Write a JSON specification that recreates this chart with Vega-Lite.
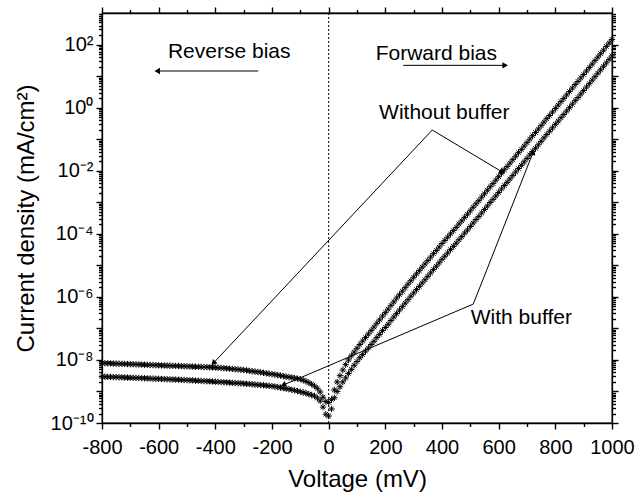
{
"$schema": "https://vega.github.io/schema/vega-lite/v6.json",
"width": 510,
"height": 410,
"autosize": {"type": "none"},
"padding": {"left": 102, "top": 13, "right": 25, "bottom": 79},
"background": "white",
"config": {
  "view": {"stroke": "black", "strokeWidth": 1.3},
  "axis": {"grid": false, "domainColor": "black", "tickColor": "black", "labelColor": "black", "titleColor": "black", "labelFont": "Liberation Sans", "titleFont": "Liberation Sans", "labelFontSize": 20, "labelFontWeight": "normal", "titleFontSize": 24, "titleFontWeight": "normal", "domainWidth": 1.3, "tickWidth": 1.4, "labelOverlap": false, "labelBound": false, "labelFlush": false}
},
"datasets": {
  "main": [
{"v":-800,"j":7.94e-9,"s":"Without buffer"},{"v":-790,"j":7.88e-9,"s":"Without buffer"},{"v":-780,"j":7.82e-9,"s":"Without buffer"},{"v":-770,"j":7.76e-9,"s":"Without buffer"},{"v":-760,"j":7.70e-9,"s":"Without buffer"},{"v":-750,"j":7.64e-9,"s":"Without buffer"},{"v":-740,"j":7.58e-9,"s":"Without buffer"},{"v":-730,"j":7.52e-9,"s":"Without buffer"},{"v":-720,"j":7.46e-9,"s":"Without buffer"},{"v":-710,"j":7.40e-9,"s":"Without buffer"},
{"v":-700,"j":7.35e-9,"s":"Without buffer"},{"v":-690,"j":7.29e-9,"s":"Without buffer"},{"v":-680,"j":7.23e-9,"s":"Without buffer"},{"v":-670,"j":7.17e-9,"s":"Without buffer"},{"v":-660,"j":7.11e-9,"s":"Without buffer"},{"v":-650,"j":7.05e-9,"s":"Without buffer"},{"v":-640,"j":6.99e-9,"s":"Without buffer"},{"v":-630,"j":6.93e-9,"s":"Without buffer"},{"v":-620,"j":6.87e-9,"s":"Without buffer"},{"v":-610,"j":6.81e-9,"s":"Without buffer"},
{"v":-600,"j":6.76e-9,"s":"Without buffer"},{"v":-590,"j":6.71e-9,"s":"Without buffer"},{"v":-580,"j":6.66e-9,"s":"Without buffer"},{"v":-570,"j":6.61e-9,"s":"Without buffer"},{"v":-560,"j":6.56e-9,"s":"Without buffer"},{"v":-550,"j":6.50e-9,"s":"Without buffer"},{"v":-540,"j":6.45e-9,"s":"Without buffer"},{"v":-530,"j":6.40e-9,"s":"Without buffer"},{"v":-520,"j":6.35e-9,"s":"Without buffer"},{"v":-510,"j":6.30e-9,"s":"Without buffer"},
{"v":-500,"j":6.25e-9,"s":"Without buffer"},{"v":-490,"j":6.20e-9,"s":"Without buffer"},{"v":-480,"j":6.15e-9,"s":"Without buffer"},{"v":-470,"j":6.10e-9,"s":"Without buffer"},{"v":-460,"j":6.05e-9,"s":"Without buffer"},{"v":-450,"j":6.00e-9,"s":"Without buffer"},{"v":-440,"j":5.95e-9,"s":"Without buffer"},{"v":-430,"j":5.90e-9,"s":"Without buffer"},{"v":-420,"j":5.85e-9,"s":"Without buffer"},{"v":-410,"j":5.80e-9,"s":"Without buffer"},
{"v":-400,"j":5.75e-9,"s":"Without buffer"},{"v":-390,"j":5.66e-9,"s":"Without buffer"},{"v":-380,"j":5.57e-9,"s":"Without buffer"},{"v":-370,"j":5.47e-9,"s":"Without buffer"},{"v":-360,"j":5.38e-9,"s":"Without buffer"},{"v":-350,"j":5.28e-9,"s":"Without buffer"},{"v":-340,"j":5.18e-9,"s":"Without buffer"},{"v":-330,"j":5.08e-9,"s":"Without buffer"},{"v":-320,"j":4.98e-9,"s":"Without buffer"},{"v":-310,"j":4.88e-9,"s":"Without buffer"},
{"v":-300,"j":4.79e-9,"s":"Without buffer"},{"v":-290,"j":4.66e-9,"s":"Without buffer"},{"v":-280,"j":4.53e-9,"s":"Without buffer"},{"v":-270,"j":4.40e-9,"s":"Without buffer"},{"v":-260,"j":4.27e-9,"s":"Without buffer"},{"v":-250,"j":4.15e-9,"s":"Without buffer"},{"v":-240,"j":4.03e-9,"s":"Without buffer"},{"v":-230,"j":3.90e-9,"s":"Without buffer"},{"v":-220,"j":3.78e-9,"s":"Without buffer"},{"v":-210,"j":3.66e-9,"s":"Without buffer"},
{"v":-200,"j":3.55e-9,"s":"Without buffer"},{"v":-190,"j":3.43e-9,"s":"Without buffer"},{"v":-180,"j":3.31e-9,"s":"Without buffer"},{"v":-170,"j":3.19e-9,"s":"Without buffer"},{"v":-160,"j":3.07e-9,"s":"Without buffer"},{"v":-150,"j":2.95e-9,"s":"Without buffer"},{"v":-140,"j":2.85e-9,"s":"Without buffer"},{"v":-130,"j":2.75e-9,"s":"Without buffer"},{"v":-120,"j":2.65e-9,"s":"Without buffer"},{"v":-110,"j":2.55e-9,"s":"Without buffer"},
{"v":-100,"j":2.45e-9,"s":"Without buffer"},{"v":-90,"j":2.28e-9,"s":"Without buffer"},{"v":-80,"j":2.09e-9,"s":"Without buffer"},{"v":-70,"j":1.90e-9,"s":"Without buffer"},{"v":-60,"j":1.70e-9,"s":"Without buffer"},{"v":-50,"j":1.48e-9,"s":"Without buffer"},{"v":-40,"j":1.26e-9,"s":"Without buffer"},{"v":-30,"j":9.6e-10,"s":"Without buffer"},{"v":-20,"j":6.6e-10,"s":"Without buffer"},{"v":-10,"j":4.8e-10,"s":"Without buffer"},
{"v":0,"j":4.5e-10,"s":"Without buffer"},{"v":10,"j":5.6e-10,"s":"Without buffer"},{"v":20,"j":1.12e-9,"s":"Without buffer"},{"v":30,"j":2.0e-9,"s":"Without buffer"},{"v":40,"j":3.16e-9,"s":"Without buffer"},{"v":50,"j":4.79e-9,"s":"Without buffer"},{"v":60,"j":7.08e-9,"s":"Without buffer"},{"v":70,"j":1.0e-8,"s":"Without buffer"},{"v":80,"j":1.35e-8,"s":"Without buffer"},{"v":90,"j":1.78e-8,"s":"Without buffer"},
{"v":100,"j":2.34e-8,"s":"Without buffer"},{"v":110,"j":3.09e-8,"s":"Without buffer"},{"v":120,"j":3.98e-8,"s":"Without buffer"},{"v":130,"j":5.13e-8,"s":"Without buffer"},{"v":140,"j":6.61e-8,"s":"Without buffer"},{"v":150,"j":8.51e-8,"s":"Without buffer"},{"v":160,"j":1.10e-7,"s":"Without buffer"},{"v":170,"j":1.45e-7,"s":"Without buffer"},{"v":180,"j":1.86e-7,"s":"Without buffer"},{"v":190,"j":2.45e-7,"s":"Without buffer"},
{"v":200,"j":3.16e-7,"s":"Without buffer"},{"v":210,"j":4.07e-7,"s":"Without buffer"},{"v":220,"j":5.37e-7,"s":"Without buffer"},{"v":230,"j":6.92e-7,"s":"Without buffer"},{"v":240,"j":9.12e-7,"s":"Without buffer"},{"v":250,"j":1.17e-6,"s":"Without buffer"},{"v":260,"j":1.51e-6,"s":"Without buffer"},{"v":270,"j":1.95e-6,"s":"Without buffer"},{"v":280,"j":2.51e-6,"s":"Without buffer"},{"v":290,"j":3.24e-6,"s":"Without buffer"},
{"v":300,"j":4.17e-6,"s":"Without buffer"},{"v":310,"j":5.37e-6,"s":"Without buffer"},{"v":320,"j":6.76e-6,"s":"Without buffer"},{"v":330,"j":8.71e-6,"s":"Without buffer"},{"v":340,"j":1.10e-5,"s":"Without buffer"},{"v":350,"j":1.41e-5,"s":"Without buffer"},{"v":360,"j":1.82e-5,"s":"Without buffer"},{"v":370,"j":2.34e-5,"s":"Without buffer"},{"v":380,"j":2.95e-5,"s":"Without buffer"},{"v":390,"j":3.80e-5,"s":"Without buffer"},
{"v":400,"j":4.90e-5,"s":"Without buffer"},{"v":410,"j":6.17e-5,"s":"Without buffer"},{"v":420,"j":7.76e-5,"s":"Without buffer"},{"v":430,"j":1.00e-4,"s":"Without buffer"},{"v":440,"j":1.26e-4,"s":"Without buffer"},{"v":450,"j":1.58e-4,"s":"Without buffer"},{"v":460,"j":2.04e-4,"s":"Without buffer"},{"v":470,"j":2.57e-4,"s":"Without buffer"},{"v":480,"j":3.31e-4,"s":"Without buffer"},{"v":490,"j":4.17e-4,"s":"Without buffer"},
{"v":500,"j":5.37e-4,"s":"Without buffer"},{"v":510,"j":6.92e-4,"s":"Without buffer"},{"v":520,"j":8.91e-4,"s":"Without buffer"},{"v":530,"j":1.12e-3,"s":"Without buffer"},{"v":540,"j":1.45e-3,"s":"Without buffer"},{"v":550,"j":1.86e-3,"s":"Without buffer"},{"v":560,"j":2.40e-3,"s":"Without buffer"},{"v":570,"j":3.09e-3,"s":"Without buffer"},{"v":580,"j":3.89e-3,"s":"Without buffer"},{"v":590,"j":5.01e-3,"s":"Without buffer"},
{"v":600,"j":6.46e-3,"s":"Without buffer"},{"v":610,"j":8.32e-3,"s":"Without buffer"},{"v":620,"j":1.07e-2,"s":"Without buffer"},{"v":630,"j":1.35e-2,"s":"Without buffer"},{"v":640,"j":1.74e-2,"s":"Without buffer"},{"v":650,"j":2.24e-2,"s":"Without buffer"},{"v":660,"j":2.88e-2,"s":"Without buffer"},{"v":670,"j":3.72e-2,"s":"Without buffer"},{"v":680,"j":4.68e-2,"s":"Without buffer"},{"v":690,"j":6.03e-2,"s":"Without buffer"},
{"v":700,"j":7.76e-2,"s":"Without buffer"},{"v":710,"j":0.100,"s":"Without buffer"},{"v":720,"j":0.129,"s":"Without buffer"},{"v":730,"j":0.162,"s":"Without buffer"},{"v":740,"j":0.209,"s":"Without buffer"},{"v":750,"j":0.269,"s":"Without buffer"},{"v":760,"j":0.347,"s":"Without buffer"},{"v":770,"j":0.447,"s":"Without buffer"},{"v":780,"j":0.562,"s":"Without buffer"},{"v":790,"j":0.724,"s":"Without buffer"},
{"v":800,"j":0.933,"s":"Without buffer"},{"v":810,"j":1.20,"s":"Without buffer"},{"v":820,"j":1.55,"s":"Without buffer"},{"v":830,"j":1.95,"s":"Without buffer"},{"v":840,"j":2.51,"s":"Without buffer"},{"v":850,"j":3.24,"s":"Without buffer"},{"v":860,"j":4.17,"s":"Without buffer"},{"v":870,"j":5.37,"s":"Without buffer"},{"v":880,"j":6.76,"s":"Without buffer"},{"v":890,"j":8.71,"s":"Without buffer"},
{"v":900,"j":11.2,"s":"Without buffer"},{"v":910,"j":14.5,"s":"Without buffer"},{"v":920,"j":18.6,"s":"Without buffer"},{"v":930,"j":24.0,"s":"Without buffer"},{"v":940,"j":30.9,"s":"Without buffer"},{"v":950,"j":39.8,"s":"Without buffer"},{"v":960,"j":51.3,"s":"Without buffer"},{"v":970,"j":66.1,"s":"Without buffer"},{"v":980,"j":87.1,"s":"Without buffer"},{"v":990,"j":112,"s":"Without buffer"},
{"v":1000,"j":145,"s":"Without buffer"},
{"v":-800,"j":2.95e-9,"s":"With buffer"},{"v":-790,"j":2.93e-9,"s":"With buffer"},{"v":-780,"j":2.91e-9,"s":"With buffer"},{"v":-770,"j":2.88e-9,"s":"With buffer"},{"v":-760,"j":2.86e-9,"s":"With buffer"},{"v":-750,"j":2.84e-9,"s":"With buffer"},{"v":-740,"j":2.82e-9,"s":"With buffer"},{"v":-730,"j":2.80e-9,"s":"With buffer"},{"v":-720,"j":2.77e-9,"s":"With buffer"},{"v":-710,"j":2.75e-9,"s":"With buffer"},
{"v":-700,"j":2.73e-9,"s":"With buffer"},{"v":-690,"j":2.71e-9,"s":"With buffer"},{"v":-680,"j":2.69e-9,"s":"With buffer"},{"v":-670,"j":2.67e-9,"s":"With buffer"},{"v":-660,"j":2.64e-9,"s":"With buffer"},{"v":-650,"j":2.62e-9,"s":"With buffer"},{"v":-640,"j":2.60e-9,"s":"With buffer"},{"v":-630,"j":2.58e-9,"s":"With buffer"},{"v":-620,"j":2.55e-9,"s":"With buffer"},{"v":-610,"j":2.53e-9,"s":"With buffer"},
{"v":-600,"j":2.51e-9,"s":"With buffer"},{"v":-590,"j":2.49e-9,"s":"With buffer"},{"v":-580,"j":2.47e-9,"s":"With buffer"},{"v":-570,"j":2.44e-9,"s":"With buffer"},{"v":-560,"j":2.42e-9,"s":"With buffer"},{"v":-550,"j":2.40e-9,"s":"With buffer"},{"v":-540,"j":2.38e-9,"s":"With buffer"},{"v":-530,"j":2.36e-9,"s":"With buffer"},{"v":-520,"j":2.33e-9,"s":"With buffer"},{"v":-510,"j":2.31e-9,"s":"With buffer"},
{"v":-500,"j":2.29e-9,"s":"With buffer"},{"v":-490,"j":2.26e-9,"s":"With buffer"},{"v":-480,"j":2.24e-9,"s":"With buffer"},{"v":-470,"j":2.21e-9,"s":"With buffer"},{"v":-460,"j":2.19e-9,"s":"With buffer"},{"v":-450,"j":2.16e-9,"s":"With buffer"},{"v":-440,"j":2.14e-9,"s":"With buffer"},{"v":-430,"j":2.11e-9,"s":"With buffer"},{"v":-420,"j":2.09e-9,"s":"With buffer"},{"v":-410,"j":2.06e-9,"s":"With buffer"},
{"v":-400,"j":2.04e-9,"s":"With buffer"},{"v":-390,"j":2.01e-9,"s":"With buffer"},{"v":-380,"j":1.99e-9,"s":"With buffer"},{"v":-370,"j":1.96e-9,"s":"With buffer"},{"v":-360,"j":1.94e-9,"s":"With buffer"},{"v":-350,"j":1.91e-9,"s":"With buffer"},{"v":-340,"j":1.88e-9,"s":"With buffer"},{"v":-330,"j":1.86e-9,"s":"With buffer"},{"v":-320,"j":1.83e-9,"s":"With buffer"},{"v":-310,"j":1.81e-9,"s":"With buffer"},
{"v":-300,"j":1.78e-9,"s":"With buffer"},{"v":-290,"j":1.75e-9,"s":"With buffer"},{"v":-280,"j":1.72e-9,"s":"With buffer"},{"v":-270,"j":1.69e-9,"s":"With buffer"},{"v":-260,"j":1.66e-9,"s":"With buffer"},{"v":-250,"j":1.63e-9,"s":"With buffer"},{"v":-240,"j":1.60e-9,"s":"With buffer"},{"v":-230,"j":1.57e-9,"s":"With buffer"},{"v":-220,"j":1.54e-9,"s":"With buffer"},{"v":-210,"j":1.51e-9,"s":"With buffer"},
{"v":-200,"j":1.48e-9,"s":"With buffer"},{"v":-190,"j":1.43e-9,"s":"With buffer"},{"v":-180,"j":1.38e-9,"s":"With buffer"},{"v":-170,"j":1.33e-9,"s":"With buffer"},{"v":-160,"j":1.28e-9,"s":"With buffer"},{"v":-150,"j":1.23e-9,"s":"With buffer"},{"v":-140,"j":1.18e-9,"s":"With buffer"},{"v":-130,"j":1.13e-9,"s":"With buffer"},{"v":-120,"j":1.08e-9,"s":"With buffer"},{"v":-110,"j":1.03e-9,"s":"With buffer"},
{"v":-100,"j":9.8e-10,"s":"With buffer"},{"v":-90,"j":9.3e-10,"s":"With buffer"},{"v":-80,"j":8.8e-10,"s":"With buffer"},{"v":-70,"j":8.2e-10,"s":"With buffer"},{"v":-60,"j":7.7e-10,"s":"With buffer"},{"v":-50,"j":7.2e-10,"s":"With buffer"},{"v":-40,"j":6.2e-10,"s":"With buffer"},{"v":-30,"j":5.0e-10,"s":"With buffer"},{"v":-20,"j":3.2e-10,"s":"With buffer"},{"v":-10,"j":1.9e-10,"s":"With buffer"},
{"v":0,"j":1.66e-10,"s":"With buffer"},{"v":10,"j":2.8e-10,"s":"With buffer"},{"v":20,"j":6.3e-10,"s":"With buffer"},{"v":30,"j":1.0e-9,"s":"With buffer"},{"v":40,"j":1.41e-9,"s":"With buffer"},{"v":50,"j":2.0e-9,"s":"With buffer"},{"v":60,"j":2.69e-9,"s":"With buffer"},{"v":70,"j":3.72e-9,"s":"With buffer"},{"v":80,"j":5.01e-9,"s":"With buffer"},{"v":90,"j":6.76e-9,"s":"With buffer"},
{"v":100,"j":8.91e-9,"s":"With buffer"},{"v":110,"j":1.17e-8,"s":"With buffer"},{"v":120,"j":1.48e-8,"s":"With buffer"},{"v":130,"j":1.91e-8,"s":"With buffer"},{"v":140,"j":2.40e-8,"s":"With buffer"},{"v":150,"j":3.09e-8,"s":"With buffer"},{"v":160,"j":3.89e-8,"s":"With buffer"},{"v":170,"j":5.13e-8,"s":"With buffer"},{"v":180,"j":6.46e-8,"s":"With buffer"},{"v":190,"j":8.51e-8,"s":"With buffer"},
{"v":200,"j":1.07e-7,"s":"With buffer"},{"v":210,"j":1.35e-7,"s":"With buffer"},{"v":220,"j":1.78e-7,"s":"With buffer"},{"v":230,"j":2.29e-7,"s":"With buffer"},{"v":240,"j":2.95e-7,"s":"With buffer"},{"v":250,"j":3.80e-7,"s":"With buffer"},{"v":260,"j":4.90e-7,"s":"With buffer"},{"v":270,"j":6.31e-7,"s":"With buffer"},{"v":280,"j":8.13e-7,"s":"With buffer"},{"v":290,"j":1.05e-6,"s":"With buffer"},
{"v":300,"j":1.32e-6,"s":"With buffer"},{"v":310,"j":1.70e-6,"s":"With buffer"},{"v":320,"j":2.14e-6,"s":"With buffer"},{"v":330,"j":2.75e-6,"s":"With buffer"},{"v":340,"j":3.47e-6,"s":"With buffer"},{"v":350,"j":4.47e-6,"s":"With buffer"},{"v":360,"j":5.75e-6,"s":"With buffer"},{"v":370,"j":7.41e-6,"s":"With buffer"},{"v":380,"j":9.33e-6,"s":"With buffer"},{"v":390,"j":1.20e-5,"s":"With buffer"},
{"v":400,"j":1.55e-5,"s":"With buffer"},{"v":410,"j":1.95e-5,"s":"With buffer"},{"v":420,"j":2.45e-5,"s":"With buffer"},{"v":430,"j":3.16e-5,"s":"With buffer"},{"v":440,"j":3.98e-5,"s":"With buffer"},{"v":450,"j":5.01e-5,"s":"With buffer"},{"v":460,"j":6.46e-5,"s":"With buffer"},{"v":470,"j":8.13e-5,"s":"With buffer"},{"v":480,"j":1.05e-4,"s":"With buffer"},{"v":490,"j":1.32e-4,"s":"With buffer"},
{"v":500,"j":1.70e-4,"s":"With buffer"},{"v":510,"j":2.19e-4,"s":"With buffer"},{"v":520,"j":2.82e-4,"s":"With buffer"},{"v":530,"j":3.55e-4,"s":"With buffer"},{"v":540,"j":4.57e-4,"s":"With buffer"},{"v":550,"j":5.89e-4,"s":"With buffer"},{"v":560,"j":7.59e-4,"s":"With buffer"},{"v":570,"j":9.77e-4,"s":"With buffer"},{"v":580,"j":1.23e-3,"s":"With buffer"},{"v":590,"j":1.58e-3,"s":"With buffer"},
{"v":600,"j":2.04e-3,"s":"With buffer"},{"v":610,"j":2.63e-3,"s":"With buffer"},{"v":620,"j":3.39e-3,"s":"With buffer"},{"v":630,"j":4.27e-3,"s":"With buffer"},{"v":640,"j":5.50e-3,"s":"With buffer"},{"v":650,"j":7.08e-3,"s":"With buffer"},{"v":660,"j":9.12e-3,"s":"With buffer"},{"v":670,"j":1.17e-2,"s":"With buffer"},{"v":680,"j":1.48e-2,"s":"With buffer"},{"v":690,"j":1.91e-2,"s":"With buffer"},
{"v":700,"j":2.45e-2,"s":"With buffer"},{"v":710,"j":3.16e-2,"s":"With buffer"},{"v":720,"j":4.07e-2,"s":"With buffer"},{"v":730,"j":5.13e-2,"s":"With buffer"},{"v":740,"j":6.61e-2,"s":"With buffer"},{"v":750,"j":8.51e-2,"s":"With buffer"},{"v":760,"j":0.110,"s":"With buffer"},{"v":770,"j":0.141,"s":"With buffer"},{"v":780,"j":0.178,"s":"With buffer"},{"v":790,"j":0.229,"s":"With buffer"},
{"v":800,"j":0.295,"s":"With buffer"},{"v":810,"j":0.372,"s":"With buffer"},{"v":820,"j":0.479,"s":"With buffer"},{"v":830,"j":0.603,"s":"With buffer"},{"v":840,"j":0.776,"s":"With buffer"},{"v":850,"j":1.00,"s":"With buffer"},{"v":860,"j":1.29,"s":"With buffer"},{"v":870,"j":1.66,"s":"With buffer"},{"v":880,"j":2.09,"s":"With buffer"},{"v":890,"j":2.69,"s":"With buffer"},
{"v":900,"j":3.47,"s":"With buffer"},{"v":910,"j":4.47,"s":"With buffer"},{"v":920,"j":5.75,"s":"With buffer"},{"v":930,"j":7.41,"s":"With buffer"},{"v":940,"j":9.55,"s":"With buffer"},{"v":950,"j":12.3,"s":"With buffer"},{"v":960,"j":15.8,"s":"With buffer"},{"v":970,"j":20.4,"s":"With buffer"},{"v":980,"j":26.3,"s":"With buffer"},{"v":990,"j":33.9,"s":"With buffer"},
{"v":1000,"j":43.7,"s":"With buffer"}
  ],
  "arrows": [
    {"x": 365.6, "y": 0.195, "x2": -407, "y2": 7.9e-9},
    {"x": 365.6, "y": 0.195, "x2": 612.7, "y2": 9.1e-3},
    {"x": 510.4, "y": 5.9e-7, "x2": 722, "y2": 0.039},
    {"x": 510.4, "y": 5.9e-7, "x2": -160, "y2": 1.6e-9},
    {"x": -248.5, "y": 14.5, "x2": -605, "y2": 14.5},
    {"x": 263, "y": 21.9, "x2": 623, "y2": 21.9}
  ],
  "labels": [
    {"x": -351, "y": 58, "t": "Reverse bias"},
    {"x": 380, "y": 50, "t": "Forward bias"},
    {"x": 408, "y": 0.70, "t": "Without buffer"},
    {"x": 680, "y": 2.2e-7, "t": "With buffer"}
  ],
  "anchor": [{"v": 0, "j": 1}]
},
"resolve": {"scale": {"x": "independent", "y": "independent"}, "axis": {"x": "independent", "y": "independent"}},
"layer": [
  {
    "data": {"name": "main"},
    "mark": {"type": "point", "shape": "M-1,0L1,0M0,-1L0,1M-0.7,-0.7L0.7,0.7M-0.7,0.7L0.7,-0.7", "filled": false, "color": "black", "strokeWidth": 1, "size": 40, "opacity": 1},
    "encoding": {
      "x": {"field": "v", "type": "quantitative", "scale": {"domain": [-800, 1000], "nice": false, "zero": false},
        "axis": {"orient": "bottom", "values": [-800, -600, -400, -200, 0, 200, 400, 600, 800, 1000], "tickSize": 6, "labelPadding": 8, "labelExpr": "'' + datum.value", "title": "Voltage (mV)", "titlePadding": 10}},
      "y": {"field": "j", "type": "quantitative", "scale": {"type": "log", "domain": [1e-10, 1000], "nice": false},
        "axis": {"orient": "left", "values": [1e-10, 1e-9, 1e-8, 1e-7, 1e-6, 1e-5, 1e-4, 1e-3, 1e-2, 1e-1, 1, 10, 100], "tickSize": 6, "labelPadding": 3,
          "labelExpr": "round(log(datum.value)/LN10)==2?'10²':round(log(datum.value)/LN10)==0?'10⁰':round(log(datum.value)/LN10)==-2?'10⁻²':round(log(datum.value)/LN10)==-4?'10⁻⁴':round(log(datum.value)/LN10)==-6?'10⁻⁶':round(log(datum.value)/LN10)==-8?'10⁻⁸':round(log(datum.value)/LN10)==-10?'10⁻¹⁰':''",
          "title": "Current density (mA/cm²)", "titlePadding": 12}}
    }
  },
  {
    "data": {"name": "anchor"},
    "mark": {"type": "point", "opacity": 0},
    "encoding": {
      "x": {"field": "v", "type": "quantitative", "scale": {"domain": [-800, 1000], "nice": false, "zero": false},
        "axis": {"orient": "top", "values": [-800, -600, -400, -200, 0, 200, 400, 600, 800, 1000], "tickSize": 6, "labels": false, "title": null}},
      "y": {"field": "j", "type": "quantitative", "scale": {"type": "log", "domain": [1e-10, 1000], "nice": false},
        "axis": {"orient": "right", "values": [1e-10, 1e-9, 1e-8, 1e-7, 1e-6, 1e-5, 1e-4, 1e-3, 1e-2, 1e-1, 1, 10, 100], "tickSize": 6, "labels": false, "title": null}}
    }
  },
  {
    "data": {"name": "anchor"},
    "mark": {"type": "point", "opacity": 0},
    "encoding": {
      "x": {"field": "v", "type": "quantitative", "scale": {"domain": [-800, 1000], "nice": false, "zero": false},
        "axis": {"orient": "bottom", "values": [-700, -500, -300, -100, 100, 300, 500, 700, 900], "tickSize": 3.5, "labels": false, "domain": false, "title": null}},
      "y": {"field": "j", "type": "quantitative", "scale": {"type": "log", "domain": [1e-10, 1000], "nice": false},
        "axis": {"orient": "left", "values": [2e-10,3e-10,4e-10,5e-10,6e-10,7e-10,8e-10,9e-10,2e-9,3e-9,4e-9,5e-9,6e-9,7e-9,8e-9,9e-9,2e-8,3e-8,4e-8,5e-8,6e-8,7e-8,8e-8,9e-8,2e-7,3e-7,4e-7,5e-7,6e-7,7e-7,8e-7,9e-7,2e-6,3e-6,4e-6,5e-6,6e-6,7e-6,8e-6,9e-6,2e-5,3e-5,4e-5,5e-5,6e-5,7e-5,8e-5,9e-5,2e-4,3e-4,4e-4,5e-4,6e-4,7e-4,8e-4,9e-4,2e-3,3e-3,4e-3,5e-3,6e-3,7e-3,8e-3,9e-3,0.02,0.03,0.04,0.05,0.06,0.07,0.08,0.09,0.2,0.3,0.4,0.5,0.6,0.7,0.8,0.9,2,3,4,5,6,7,8,9,20,30,40,50,60,70,80,90,200,300,400,500,600,700,800,900], "tickSize": 3.5, "labels": false, "domain": false, "title": null}}
    }
  },
  {
    "data": {"name": "anchor"},
    "mark": {"type": "point", "opacity": 0},
    "encoding": {
      "x": {"field": "v", "type": "quantitative", "scale": {"domain": [-800, 1000], "nice": false, "zero": false},
        "axis": {"orient": "top", "values": [-700, -500, -300, -100, 100, 300, 500, 700, 900], "tickSize": 3.5, "labels": false, "domain": false, "title": null}},
      "y": {"field": "j", "type": "quantitative", "scale": {"type": "log", "domain": [1e-10, 1000], "nice": false},
        "axis": {"orient": "right", "values": [2e-10,3e-10,4e-10,5e-10,6e-10,7e-10,8e-10,9e-10,2e-9,3e-9,4e-9,5e-9,6e-9,7e-9,8e-9,9e-9,2e-8,3e-8,4e-8,5e-8,6e-8,7e-8,8e-8,9e-8,2e-7,3e-7,4e-7,5e-7,6e-7,7e-7,8e-7,9e-7,2e-6,3e-6,4e-6,5e-6,6e-6,7e-6,8e-6,9e-6,2e-5,3e-5,4e-5,5e-5,6e-5,7e-5,8e-5,9e-5,2e-4,3e-4,4e-4,5e-4,6e-4,7e-4,8e-4,9e-4,2e-3,3e-3,4e-3,5e-3,6e-3,7e-3,8e-3,9e-3,0.02,0.03,0.04,0.05,0.06,0.07,0.08,0.09,0.2,0.3,0.4,0.5,0.6,0.7,0.8,0.9,2,3,4,5,6,7,8,9,20,30,40,50,60,70,80,90,200,300,400,500,600,700,800,900], "tickSize": 3.5, "labels": false, "domain": false, "title": null}}
    }
  },
  {
    "data": {"values": [{"v": 0}]},
    "mark": {"type": "rule", "color": "black", "strokeWidth": 1, "strokeDash": [2, 2]},
    "encoding": {
      "x": {"field": "v", "type": "quantitative", "scale": {"domain": [-800, 1000], "nice": false, "zero": false}, "axis": null}
    }
  },
  {
    "data": {"name": "arrows"},
    "mark": {"type": "rule", "color": "black", "strokeWidth": 1},
    "encoding": {
      "x": {"field": "x", "type": "quantitative", "scale": {"domain": [-800, 1000], "nice": false, "zero": false}, "axis": null},
      "y": {"field": "y", "type": "quantitative", "scale": {"type": "log", "domain": [1e-10, 1000], "nice": false}, "axis": null},
      "x2": {"field": "x2"},
      "y2": {"field": "y2"}
    }
  },
  {
    "data": {"name": "labels"},
    "mark": {"type": "text", "font": "Liberation Sans", "fontSize": 21, "color": "black", "align": "center", "baseline": "middle"},
    "encoding": {
      "x": {"field": "x", "type": "quantitative", "scale": {"domain": [-800, 1000], "nice": false, "zero": false}, "axis": null},
      "y": {"field": "y", "type": "quantitative", "scale": {"type": "log", "domain": [1e-10, 1000], "nice": false}, "axis": null},
      "text": {"field": "t"}
    }
  },
  {
    "data": {"values": [{"x": -407, "y": 7.9e-9}]},
    "mark": {"type": "point", "shape": "triangle-up", "angle": 223, "filled": true, "color": "black", "size": 40, "opacity": 1},
    "encoding": {
      "x": {"field": "x", "type": "quantitative", "scale": {"domain": [-800, 1000], "nice": false, "zero": false}, "axis": null},
      "y": {"field": "y", "type": "quantitative", "scale": {"type": "log", "domain": [1e-10, 1000], "nice": false}, "axis": null}
    }
  },
  {
    "data": {"values": [{"x": 612.7, "y": 9.1e-3}]},
    "mark": {"type": "point", "shape": "triangle-up", "angle": 121, "filled": true, "color": "black", "size": 40, "opacity": 1},
    "encoding": {
      "x": {"field": "x", "type": "quantitative", "scale": {"domain": [-800, 1000], "nice": false, "zero": false}, "axis": null},
      "y": {"field": "y", "type": "quantitative", "scale": {"type": "log", "domain": [1e-10, 1000], "nice": false}, "axis": null}
    }
  },
  {
    "data": {"values": [{"x": 722, "y": 0.039}]},
    "mark": {"type": "point", "shape": "triangle-up", "angle": 21.5, "filled": true, "color": "black", "size": 40, "opacity": 1},
    "encoding": {
      "x": {"field": "x", "type": "quantitative", "scale": {"domain": [-800, 1000], "nice": false, "zero": false}, "axis": null},
      "y": {"field": "y", "type": "quantitative", "scale": {"type": "log", "domain": [1e-10, 1000], "nice": false}, "axis": null}
    }
  },
  {
    "data": {"values": [{"x": -160, "y": 1.6e-9}]},
    "mark": {"type": "point", "shape": "triangle-up", "angle": 247, "filled": true, "color": "black", "size": 40, "opacity": 1},
    "encoding": {
      "x": {"field": "x", "type": "quantitative", "scale": {"domain": [-800, 1000], "nice": false, "zero": false}, "axis": null},
      "y": {"field": "y", "type": "quantitative", "scale": {"type": "log", "domain": [1e-10, 1000], "nice": false}, "axis": null}
    }
  },
  {
    "data": {"values": [{"x": -605, "y": 14.5}]},
    "mark": {"type": "point", "shape": "triangle-left", "filled": true, "color": "black", "size": 40, "opacity": 1},
    "encoding": {
      "x": {"field": "x", "type": "quantitative", "scale": {"domain": [-800, 1000], "nice": false, "zero": false}, "axis": null},
      "y": {"field": "y", "type": "quantitative", "scale": {"type": "log", "domain": [1e-10, 1000], "nice": false}, "axis": null}
    }
  },
  {
    "data": {"values": [{"x": 623, "y": 21.9}]},
    "mark": {"type": "point", "shape": "triangle-right", "filled": true, "color": "black", "size": 40, "opacity": 1},
    "encoding": {
      "x": {"field": "x", "type": "quantitative", "scale": {"domain": [-800, 1000], "nice": false, "zero": false}, "axis": null},
      "y": {"field": "y", "type": "quantitative", "scale": {"type": "log", "domain": [1e-10, 1000], "nice": false}, "axis": null}
    }
  }
]
}
